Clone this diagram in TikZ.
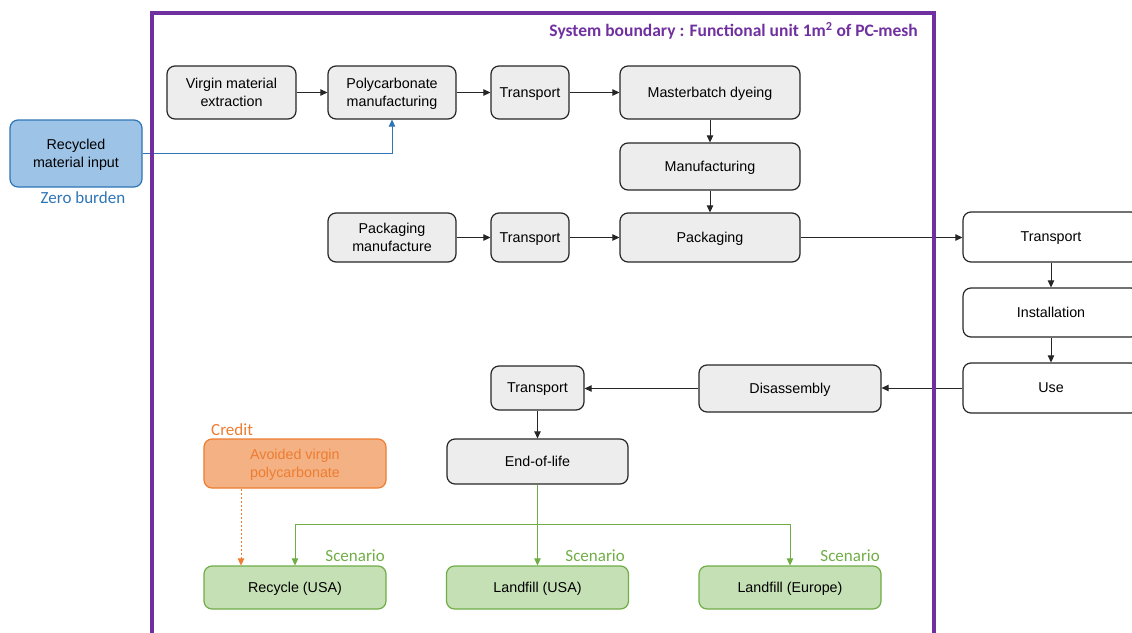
\documentclass[tikz,border=0pt]{standalone}
\usepackage{fontspec}
\setmainfont{Liberation Sans}
\newfontfamily\calibri{Carlito}
\usetikzlibrary{arrows.meta}

\definecolor{boxgray}{HTML}{EDEDED}
\definecolor{boundary}{HTML}{7030A0}
\definecolor{recfill}{HTML}{9DC3E6}
\definecolor{recline}{HTML}{2E75B6}
\definecolor{credfill}{HTML}{F4B183}
\definecolor{credline}{HTML}{ED7D31}
\definecolor{scenfill}{HTML}{C5E0B4}
\definecolor{scenline}{HTML}{70AD47}

\begin{document}
\begin{tikzpicture}[x=1pt,y=-1pt,
		proc/.style={draw=black!85,fill=boxgray,rounded corners=8pt,line width=1.2pt,align=center,inner sep=0pt,text depth=0pt,font=\fontsize{14.3}{18}\selectfont},
		outproc/.style={proc,fill=white},
		recyc/.style={proc,draw=recline,fill=recfill},
		credit/.style={proc,draw=credline,fill=credfill,text=credline,align=left},
		scen/.style={proc,draw=scenline,fill=scenfill,minimum width=182,minimum height=43},
		lbl/.style={inner sep=0pt,font=\calibri\fontsize{17}{20}\selectfont},
		flow/.style={-{Triangle[length=7pt,width=6.5pt]},line width=0.8pt,draw=black!85},
		scenflow/.style={flow,draw=scenline},
		creditflow/.style={flow,draw=credline,line width=1pt,dash pattern=on 2pt off 2pt}]
		\useasboundingbox (0,0) rectangle (1132,632);
		\clip (0,0) rectangle (1132,632);

		% input outside the boundary
		\node [recyc, minimum width=132, minimum height=67] (recycled) at ( 76, 153.5 ) {Recycled\\material input};
		\node [lbl, text=recline] (zero) at ( 83, 198 ) {Zero burden};

		% production chain
		\node [proc, minimum width=129, minimum height=53] (virgin) at ( 231.5, 92.5 ) {Virgin material\\extraction};
		\node [proc, minimum width=128, minimum height=53] (pcman) at ( 392, 92.5 ) {Polycarbonate\\manufacturing};
		\node [proc, minimum width=78, minimum height=53] (trans1) at ( 530, 92.5 ) {Transport};
		\node [proc, minimum width=180, minimum height=53] (dyeing) at ( 710, 92.5 ) {Masterbatch dyeing};
		\node [proc, minimum width=180, minimum height=47] (manuf) at ( 710, 166.5 ) {Manufacturing};
		\node [proc, minimum width=128, minimum height=49] (packman) at ( 392, 237.5 ) {Packaging\\manufacture};
		\node [proc, minimum width=78, minimum height=49] (trans2) at ( 530, 237.5 ) {Transport};
		\node [proc, minimum width=180, minimum height=49] (packing) at ( 710, 237.5 ) {Packaging};

		% use phase
		\node [outproc, minimum width=176, minimum height=50] (trans3) at ( 1051, 237 ) {Transport};
		\node [outproc, minimum width=176, minimum height=49] (install) at ( 1051, 312.5 ) {Installation};
		\node [outproc, minimum width=176, minimum height=50] (use) at ( 1051, 388 ) {Use};

		% end of life
		\node [proc, minimum width=182, minimum height=47] (disasm) at ( 790, 388.5 ) {Disassembly};
		\node [proc, minimum width=93, minimum height=44] (trans4) at ( 537.5, 388 ) {Transport};
		\node [proc, minimum width=181, minimum height=45] (eol) at ( 537.5, 461.5 ) {End-of-life};
		\node [credit, minimum width=182, minimum height=49] (avoided) at ( 295, 463.5 ) {Avoided virgin\\polycarbonate};
		\node [lbl, text=credline, anchor=west] (creditlbl) at ( 211, 430 ) {Credit};

		% scenarios
		\node [scen] (recycle) at ( 295, 587.5 ) {Recycle (USA)};
		\node [scen] (landusa) at ( 537.5, 587.5 ) {Landfill (USA)};
		\node [scen] (landeu) at ( 790, 587.5 ) {Landfill (Europe)};
		\node [lbl, text=scenline, anchor=east] (scen1) at ( 385, 556 ) {Scenario};
		\node [lbl, text=scenline, anchor=east] (scen2) at ( 625, 556 ) {Scenario};
		\node [lbl, text=scenline, anchor=east] (scen3) at ( 880, 556 ) {Scenario};

		% flows
		\draw [flow] (virgin) -- (pcman);
		\draw [flow] (pcman) -- (trans1);
		\draw [flow] (trans1) -- (dyeing);
		\draw [flow] (dyeing) -- (manuf);
		\draw [flow] (manuf) -- (packing);
		\draw [flow] (packman) -- (trans2);
		\draw [flow] (trans2) -- (packing);
		\draw [flow] (packing.east) -- (packing.east -| trans3.west);
		\draw [flow] (trans3) -- (install);
		\draw [flow] (install) -- (use);
		\draw [flow] (use.west) -- (use.west -| disasm.east);
		\draw [flow] (disasm.west) -- (disasm.west -| trans4.east);
		\draw [flow] (trans4) -- (eol);
		\draw [flow, draw=recline] (recycled.east) -| (pcman.south);
		\coordinate (split) at ( 537.5, 524 );
		\draw [scenflow] (eol) -- (landusa);
		\draw [scenflow] (split) -| (recycle.north);
		\draw [scenflow] (split) -| (landeu.north);
		\draw [creditflow] ([xshift=-54pt]avoided.south) -- ([xshift=-54pt]recycle.north);

		% system boundary
		\draw [boundary, line width=3.5pt] ( 152, 660 ) -- ( 152, 13 ) -- ( 934, 13 ) -- ( 934, 660 );
		\node [anchor=east, inner sep=0pt, text=boundary, font=\calibri\bfseries\fontsize{17.5}{20}\selectfont] (title) at ( 918, 31 ) {System boundary : Functional unit 1m\textsuperscript{2} of PC-mesh};
	\end{tikzpicture}
\end{document}
